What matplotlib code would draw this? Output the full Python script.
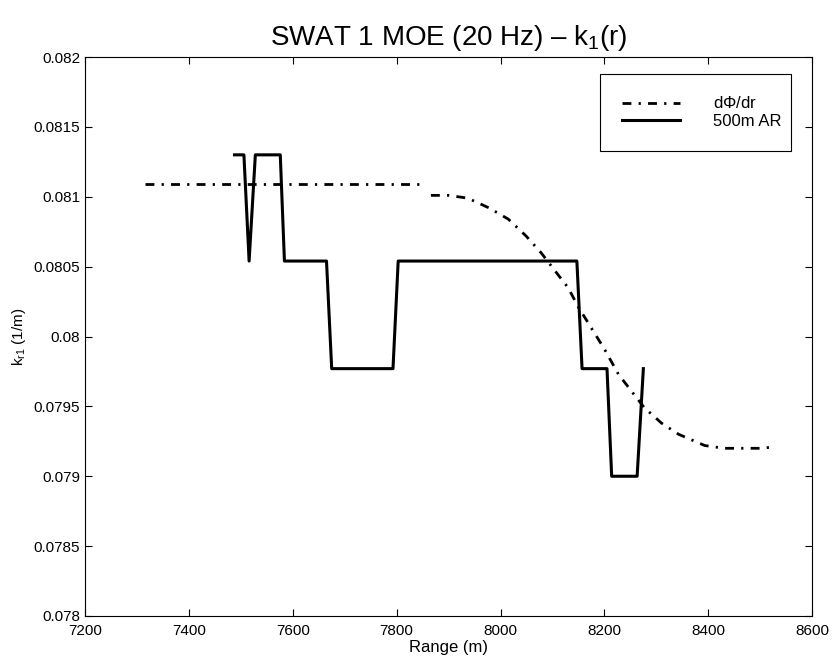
import numpy as np
import matplotlib
matplotlib.use("Agg")
import matplotlib.pyplot as plt
from matplotlib.ticker import FuncFormatter

# -- Fonts --
plt.rcParams['font.family'] = ['Liberation Sans', 'DejaVu Sans']
plt.rcParams['mathtext.fontset'] = 'custom'
plt.rcParams['mathtext.rm'] = 'Liberation Sans'
plt.rcParams['mathtext.it'] = 'Liberation Sans:italic'

# -- Data: dPhi/dr (flat part, then roll-off) --
phi_flat_r = [7316, 7847]
phi_flat_k = [0.08109, 0.08109]

phi_r = [7866, 7900, 7937, 7978, 8015, 8049, 8078, 8107, 8130, 8150, 8175,
         8200, 8227, 8256, 8277, 8310, 8343, 8393, 8430, 8459, 8500, 8528]
phi_k = [0.08101, 0.08101, 0.08099, 0.08092, 0.08084, 0.08072, 0.08060,
         0.08046, 0.08035, 0.08021, 0.08006, 0.07991, 0.07973, 0.07959,
         0.07949, 0.07938, 0.07930, 0.07922, 0.07920, 0.07920, 0.07920,
         0.07921]

# -- Data: 500m AR --
ar_r = [7488, 7506, 7516, 7528, 7576, 7584, 7665, 7675, 7793, 7803,
        8147, 8157, 8205, 8214, 8263, 8275]
ar_k = [0.0813, 0.0813, 0.08054, 0.0813, 0.0813, 0.08054, 0.08054, 0.07977,
        0.07977, 0.08054, 0.08054, 0.07977, 0.07977, 0.0790, 0.0790, 0.07977]

# -- Plotting --
fig = plt.figure(figsize=(8.33, 6.71), dpi=100)
ax = fig.add_axes([0.102, 0.082, 0.873, 0.833])

dashdot = (0, (3.2, 2.6, 0.8, 2.6))
ax.plot(phi_flat_r, phi_flat_k, color='black', lw=2.0, linestyle=dashdot,
        label=r'd$\Phi$/dr')
ax.plot(phi_r, phi_k, color='black', lw=2.0, linestyle=dashdot)
ax.plot(ar_r, ar_k, color='black', lw=2.2, label='500m AR')

ax.set_xlim(7200, 8600)
ax.set_ylim(0.078, 0.082)
ax.set_xticks(np.arange(7200, 8601, 200))
ax.set_yticks(np.arange(0.078, 0.08201, 0.0005))
ax.yaxis.set_major_formatter(FuncFormatter(lambda v, p: '%g' % round(v, 5)))
ax.tick_params(direction='in', top=True, right=True, labelsize=11, length=5)
ax.tick_params(axis='x', pad=6)

ax.set_title(r'SWAT 1 MOE (20 Hz) – k$_{\mathrm{1}}$(r)', fontsize=20, pad=9)
ax.set_xlabel('Range (m)', fontsize=12, labelpad=1)
ax.set_ylabel(r'k$_{\mathrm{r1}}$ (1/m)', fontsize=11, labelpad=4)

leg = ax.legend(loc='upper left', bbox_to_anchor=(0.697, 0.985, 0.286, 0.0),
                mode='expand', fontsize=12, handlelength=3.5,
                handletextpad=2.0, borderpad=1.3, labelspacing=0.15,
                fancybox=False, edgecolor='black', framealpha=1)
leg.get_frame().set_linewidth(0.8)

fig.savefig('out.png', dpi=100)
